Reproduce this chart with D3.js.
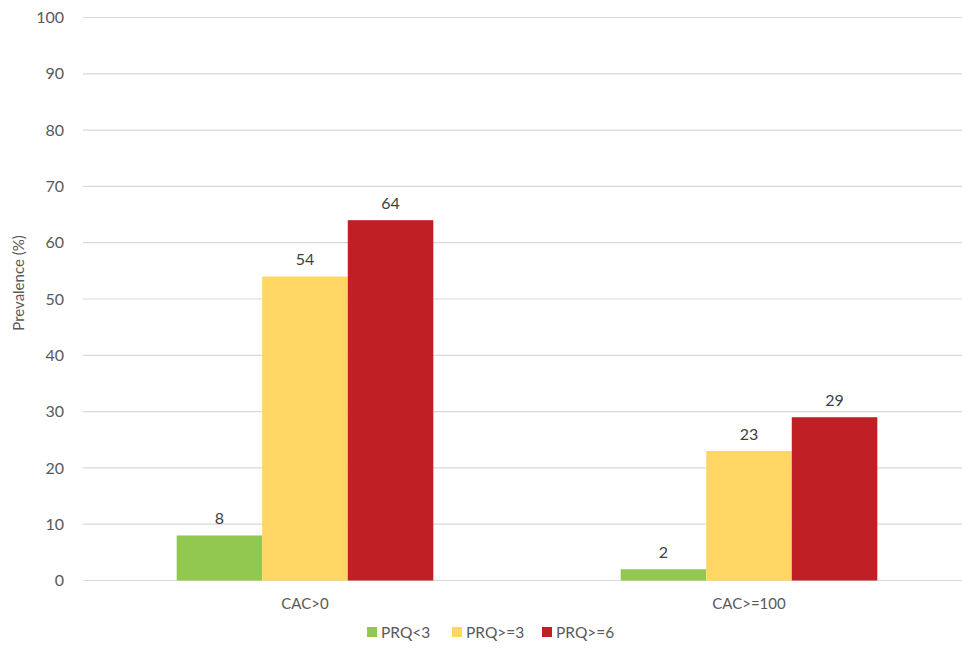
<!DOCTYPE html>
<html>
<head>
<meta charset="utf-8">
<script src="https://cdn.jsdelivr.net/npm/d3@7"></script>
<style>
  html, body { margin: 0; padding: 0; background: #fff; }
  svg { display: block; font-family: Lato, "Open Sans", sans-serif; }
</style>
</head>
<body>
<svg id="chart" width="962" height="650"></svg>
<script>
// Prevalence of coronary calcium by PRQ group
const categories = ["CAC>0", "CAC>=100"];
const seriesNames = ["PRQ<3", "PRQ>=3", "PRQ>=6"];
const seriesColors = ["#92c84f", "#ffd563", "#c01f25"];
const prq3Values = [8, 2];
const prqGe3Values = [54, 23];
const prqGe6Values = [64, 29];
const yTicks = [0, 10, 20, 30, 40, 50, 60, 70, 80, 90, 100];
const yLabel = "Prevalence (%)";

const seriesValues = [prq3Values, prqGe3Values, prqGe6Values];

const svg = d3.select("#chart");
const plotLeft = 83, plotRight = 971, plotTop = 17.5, plotBottom = 580.5;

const x = d3.scaleBand().domain(categories).range([plotLeft, plotRight])
  .paddingInner(0.422).paddingOuter(0.211);
const xs = d3.scaleBand().domain(seriesNames).range([0, x.bandwidth()]);
const y = d3.scaleLinear().domain([0, 100]).range([plotBottom, plotTop]);

// gridlines
svg.append("g")
  .selectAll("line").data(yTicks).join("line")
  .attr("x1", plotLeft).attr("x2", plotRight)
  .attr("y1", d => y(d)).attr("y2", d => y(d))
  .attr("stroke", "#d9d9d9").attr("stroke-width", 1.2);

// y axis labels
const yAxis = d3.axisLeft(y).tickValues(yTicks).tickSize(0).tickPadding(0);
const gy = svg.append("g").attr("transform", "translate(64,0)").call(yAxis);
gy.select(".domain").remove();
gy.selectAll("text").attr("fill", "#595959").style("font-size", "16px")
  .style("font-family", "Lato, sans-serif");

svg.append("text")
  .attr("transform", "translate(24,283) rotate(-90)")
  .attr("text-anchor", "middle")
  .attr("fill", "#595959").style("font-size", "15px")
  .text(yLabel);

// x axis labels
const xAxis = d3.axisBottom(x).tickSize(0).tickPadding(0);
const gx = svg.append("g").attr("transform", "translate(0,598)").call(xAxis);
gx.select(".domain").remove();
gx.selectAll("text").attr("fill", "#595959").style("font-size", "15px")
  .style("font-family", "Lato, sans-serif");

// bars and value labels
const groups = svg.append("g").selectAll("g").data(categories).join("g")
  .attr("transform", d => `translate(${x(d)},0)`);

groups.each(function(cat, ci) {
  const g = d3.select(this);
  seriesNames.forEach((s, si) => {
    const v = seriesValues[si][ci];
    g.append("rect")
      .attr("x", xs(s)).attr("width", xs.bandwidth())
      .attr("y", y(v)).attr("height", y(0) - y(v))
      .attr("fill", seriesColors[si]);
    g.append("text")
      .attr("x", xs(s) + xs.bandwidth() / 2)
      .attr("y", y(v) - 11)
      .attr("text-anchor", "middle")
      .attr("fill", "#404040").style("font-size", "16px")
      .text(v);
  });
});

// legend
const legendX = [367, 452, 542];
const legend = svg.append("g").selectAll("g").data(seriesNames).join("g")
  .attr("transform", (d, i) => `translate(${legendX[i]},627)`);
legend.append("rect").attr("width", 10).attr("height", 10)
  .attr("fill", (d, i) => seriesColors[i]);
legend.append("text").attr("x", 14).attr("y", 10.5)
  .attr("fill", "#595959").style("font-size", "15.5px")
  .text(d => d);
</script>
</body>
</html>
